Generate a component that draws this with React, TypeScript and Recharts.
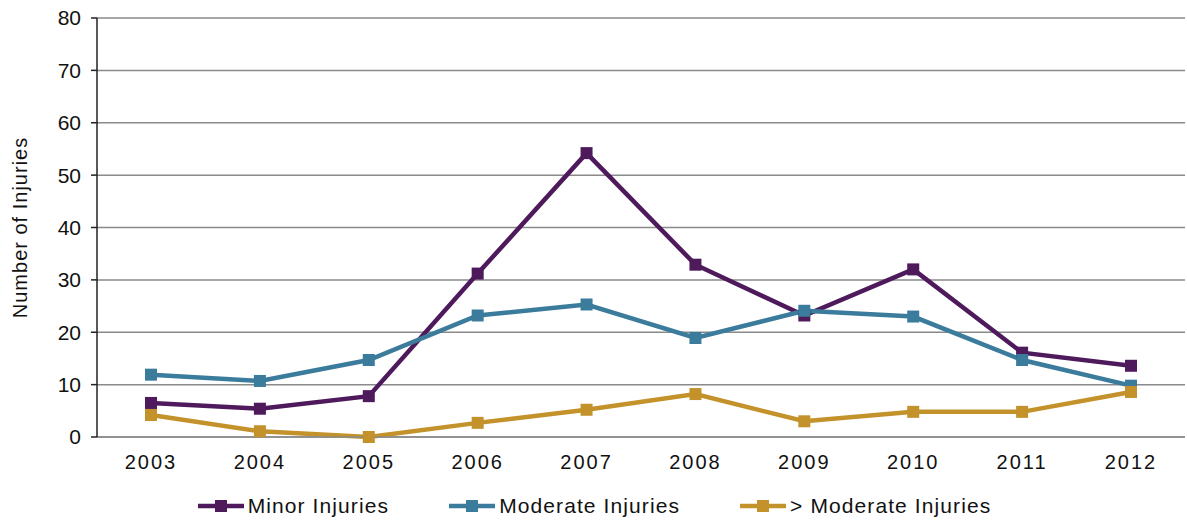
import { CartesianGrid, Legend, Line, LineChart, XAxis, YAxis } from "recharts";

const years = ["2003", "2004", "2005", "2006", "2007", "2008", "2009", "2010", "2011", "2012"];
const minorInjuries = [6.5, 5.4, 7.8, 31.2, 54.2, 32.9, 23.2, 32, 16.1, 13.6];
const moderateInjuries = [11.9, 10.7, 14.7, 23.2, 25.3, 18.9, 24.1, 23, 14.7, 9.8];
const severeInjuries = [4.2, 1.1, 0, 2.7, 5.2, 8.2, 3, 4.8, 4.8, 8.6];
const yTicks = [0, 10, 20, 30, 40, 50, 60, 70, 80];

const series = [
  { key: "minor", name: "Minor Injuries", color: "#4e1a5c" },
  { key: "moderate", name: "Moderate Injuries", color: "#3b7b9b" },
  { key: "severe", name: "> Moderate Injuries", color: "#c4922a" },
];

const data = years.map((year, i) => ({
  year,
  minor: minorInjuries[i],
  moderate: moderateInjuries[i],
  severe: severeInjuries[i],
}));

const font = "'Liberation Sans', Arial, sans-serif";

function SquareDot(props: { cx?: number; cy?: number; stroke?: string; index?: number }) {
  const { cx, cy, stroke, index } = props;
  if (cx == null || cy == null) return null;
  return <rect key={index} x={cx - 6} y={cy - 6} width={12} height={12} fill={stroke} />;
}

function ChartLegend() {
  return (
    <div style={{ display: "flex", justifyContent: "center", gap: 60, fontFamily: font, fontSize: 21, color: "#111", marginLeft: 4, marginTop: 5 }}>
      {series.map((s) => (
        <div key={s.key} style={{ display: "flex", alignItems: "center" }}>
          <svg width={46} height={14} style={{ marginRight: 4 }}>
            <line x1={0} y1={7} x2={46} y2={7} stroke={s.color} strokeWidth={4.5} />
            <rect x={17} y={1} width={12} height={12} fill={s.color} />
          </svg>
          <span style={{ letterSpacing: 1.1 }}>{s.name}</span>
        </div>
      ))}
    </div>
  );
}

export default function App() {
  return (
    <div style={{ position: "absolute", left: 0, top: 0, background: "#fff" }}>
      <LineChart width={1187} height={523} data={data} margin={{ top: 18, right: 2, bottom: 4, left: 0 }}>
        <CartesianGrid vertical={false} stroke="#8a8a8a" strokeWidth={1.5} />
        <XAxis
          dataKey="year"
          padding={{ left: 54, right: 54 }}
          axisLine={{ stroke: "#8a8a8a", strokeWidth: 1.5 }}
          tickLine={false}
          tick={{ fill: "#111", fontSize: 20, fontFamily: font, letterSpacing: 2 }}
          tickMargin={12}
          height={51}
        />
        <XAxis
          xAxisId="ticks"
          type="number"
          domain={[0, 10]}
          ticks={[1, 2, 3, 4, 5, 6, 7, 8, 9]}
          allowDataOverflow
          axisLine={false}
          tick={false}
          tickLine={{ stroke: "#666", strokeWidth: 1.5 }}
          tickSize={6}
          height={1}
        />
        <YAxis
          domain={[0, 80]}
          ticks={yTicks}
          width={97}
          axisLine={{ stroke: "#222", strokeWidth: 1.5 }}
          tickLine={{ stroke: "#222", strokeWidth: 1.5 }}
          tickSize={6}
          tickMargin={10}
          tick={{ fill: "#111", fontSize: 21, fontFamily: font }}
          label={{
            value: "Number of Injuries",
            angle: -90,
            position: "insideLeft",
            offset: 20,
            style: { fill: "#111", fontSize: 20, fontFamily: font, letterSpacing: 1, textAnchor: "middle" },
          }}
        />
        <Legend verticalAlign="bottom" height={30} content={<ChartLegend />} />
        {series.map((s) => (
          <Line
            key={s.key}
            dataKey={s.key}
            name={s.name}
            stroke={s.color}
            strokeWidth={4.5}
            dot={<SquareDot />}
            activeDot={false}
            isAnimationActive={false}
          />
        ))}
      </LineChart>
    </div>
  );
}
